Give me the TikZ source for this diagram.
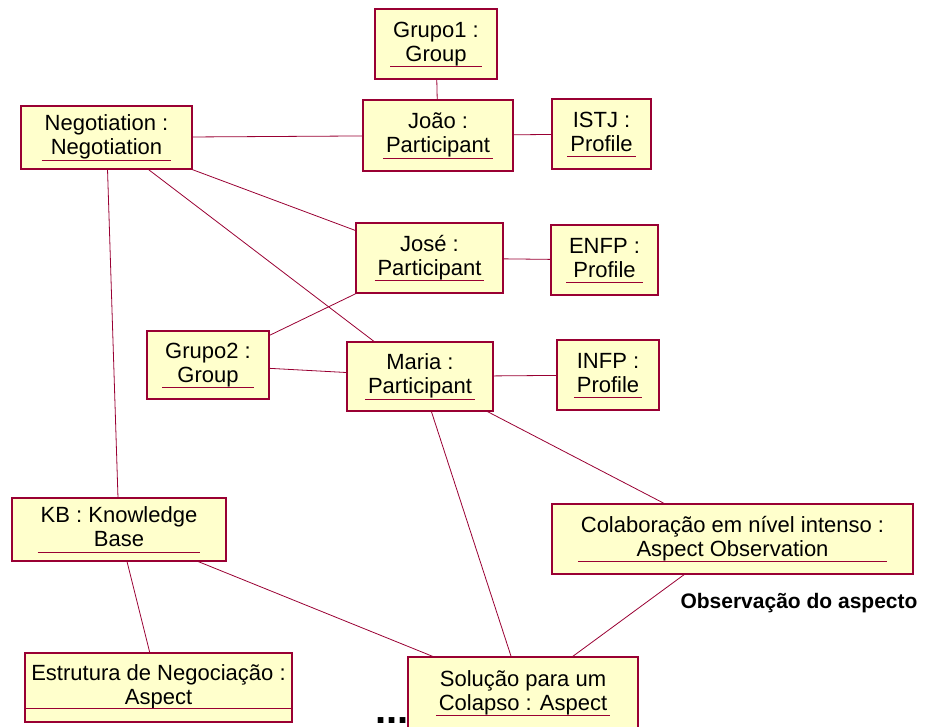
\documentclass[tikz,border=0pt]{standalone}
\usepackage{fontspec}
\setmainfont{Liberation Sans}

\definecolor{umlred}{RGB}{153,0,51}
\definecolor{umlfill}{RGB}{255,255,204}

% object name over two lines, underlined as a whole
\newcommand{\objname}[2]{%
  \setbox0=\hbox{\begin{tabular}{@{}c@{}}#1\\#2\end{tabular}}%
  \dimen0=\wd0
  \vbox{\box0\kern-6.5pt
    \hbox to \dimen0{\hss{\color{umlred}\rule{\dimexpr\dimen0+6pt\relax}{1pt}}\hss}}}
\newcommand{\objplain}[2]{\begin{tabular}{@{}c@{}}#1\\#2\end{tabular}}

\begin{document}
\begin{tikzpicture}[x=1pt, y=-1pt,
    obj/.style = {draw=umlred, fill=umlfill, line width=1.1pt, inner sep=0pt,
                  font=\fontsize{22}{24}\selectfont},
    link/.style = {draw=umlred, line width=0.8pt}]
    % \draw [help lines, step=50] (0,0) grid (928,727);
    \useasboundingbox (0,0) rectangle (928,727);
    \clip (0,0) rectangle (928,727);

    \node (grupo1) [obj, minimum width=122pt, minimum height=70pt] at (436,44) {\objname{Grupo1 :}{Group}};
    \node (joao) [obj, minimum width=150pt, minimum height=71pt] at (438,135.5) {\objname{João :}{Participant}};
    \node (istj) [obj, minimum width=99pt, minimum height=70pt] at (601.5,134) {\objname{ISTJ :}{Profile}};
    \node (negot) [obj, minimum width=171pt, minimum height=63pt] at (106.5,137.5) {\objname{Negotiation :}{Negotiation}};
    \node (jose) [obj, minimum width=147pt, minimum height=70pt] at (429.5,258) {\objname{José :}{Participant}};
    \node (enfp) [obj, minimum width=107pt, minimum height=70pt] at (604.5,260) {\objname{ENFP :}{Profile}};
    \node (grupo2) [obj, minimum width=122pt, minimum height=68pt] at (208,365) {\objname{Grupo2 :}{Group}};
    \node (maria) [obj, minimum width=146pt, minimum height=69pt] at (420,376.5) {\objname{Maria :}{Participant}};
    \node (infp) [obj, minimum width=102pt, minimum height=70pt] at (608,375) {\objname{INFP :}{Profile}};
    \node (kb) [obj, minimum width=214pt, minimum height=63pt] at (119,529.5) {\objname{KB : Knowledge}{Base}};
    \node (colab) [obj, minimum width=361pt, minimum height=70pt] at (732.5,539) {\objname{Colaboração em nível intenso :}{Aspect Observation}};
    \node (estr) [obj, minimum width=267pt, minimum height=69pt] at (158.5,687.5) {\objplain{Estrutura de Negociação :}{Aspect}};
    \node (solucao) [obj, minimum width=230pt, minimum height=72pt] at (523,693) {\objname{Solução para um}{Colapso : Aspect}};

    \draw [link] ([yshift=14pt]estr.south west) -- ([yshift=14pt]estr.south east);

    \node (obs) [font=\fontsize{21}{24}\selectfont\bfseries] at (799,603) {Observação do aspecto};
    \node (dots) [anchor=base east, inner sep=0pt, font=\fontsize{40}{40}\selectfont\bfseries] at (409,723) {...};

    \path [link]
        (grupo1) edge (joao)
        (negot) edge (joao)
        (joao) edge (istj)
        (negot) edge (jose)
        (negot) edge (maria)
        (negot) edge (kb)
        (jose) edge (enfp)
        (jose) edge (grupo2)
        (grupo2) edge (maria)
        (maria) edge (infp)
        (maria) edge (colab)
        (maria) edge (solucao)
        (kb) edge (estr)
        (kb) edge (solucao)
        (colab) edge (solucao);
\end{tikzpicture}
\end{document}
